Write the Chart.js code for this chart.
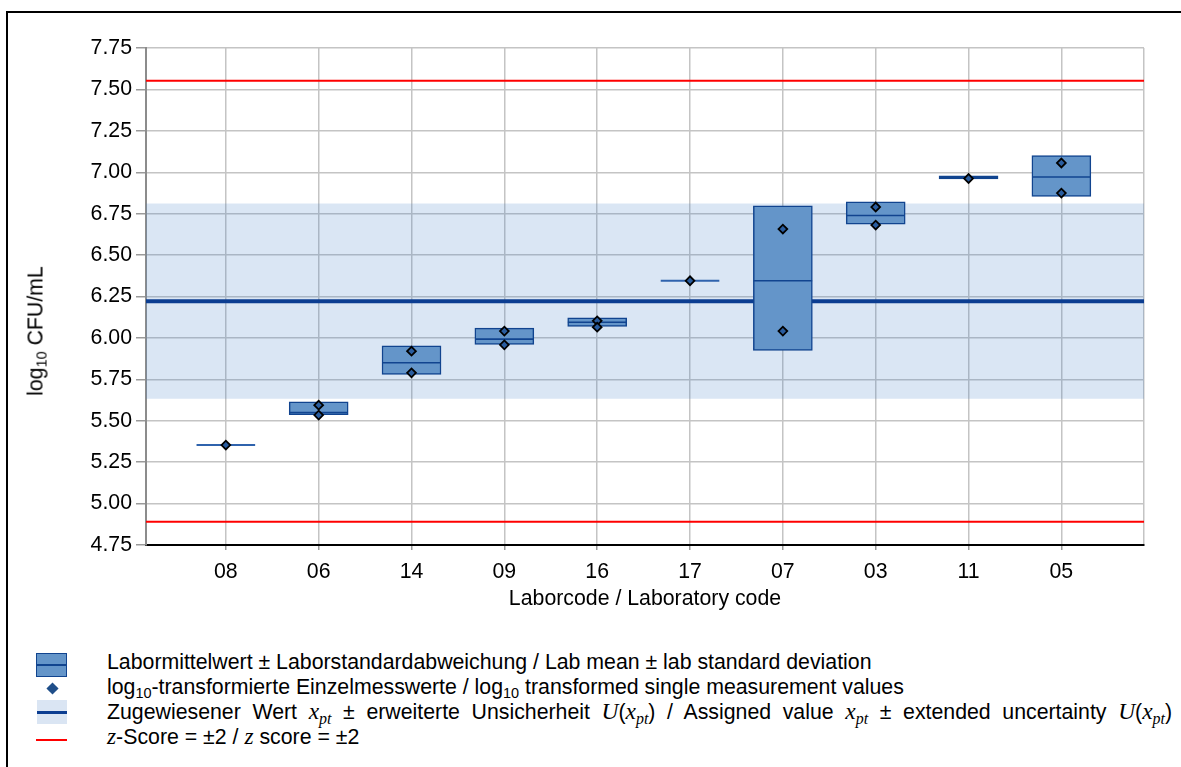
<!DOCTYPE html>
<html><head><meta charset="utf-8">
<script src="https://cdn.jsdelivr.net/npm/chart.js@4.4.1/dist/chart.umd.min.js"></script>
<style>
html,body{margin:0;padding:0;background:#fff;}
body{width:1181px;height:767px;position:relative;overflow:hidden;font-family:"Liberation Sans",Arial,sans-serif;color:#000;}
#frame{position:absolute;left:6px;top:11px;width:1300px;height:900px;border-left:2.5px solid #000;border-top:2.5px solid #000;}
#wrap{position:absolute;left:0;top:0;width:1181px;height:615px;}
#ytitle{position:absolute;left:36px;top:331px;transform:translate(-50%,-50%) rotate(-90deg);font-size:21.3px;white-space:nowrap;}
.row{position:absolute;left:107px;font-size:21.3px;white-space:nowrap;line-height:25px;height:25px;}
.m{font-family:"Liberation Serif","DejaVu Serif",serif;font-style:italic;font-size:1.1em;}
.sb{font-size:0.68em;position:relative;top:0.28em;}
.msb{font-size:0.68em;position:relative;top:0.3em;}
.ic{position:absolute;box-sizing:border-box;}
</style>
</head><body>
<div id="frame"></div>
<div id="wrap"><canvas id="c" width="1181" height="615"></canvas></div>
<div id="ytitle">log<span class="sb">10</span> CFU/mL</div>

<div class="ic" style="left:36px;top:653px;width:31px;height:24px;background:#6495c9;border:1.5px solid #11448f;"></div>
<div class="ic" style="left:36px;top:664px;width:31px;height:1.5px;background:#11448f;"></div>
<div class="ic" style="left:47px;top:683px;width:11px;height:11px;background:#1f4e89;transform:rotate(45deg) scale(0.78);"></div>
<div class="ic" style="left:37px;top:700px;width:30px;height:24px;background:#dae5f3;"></div>
<div class="ic" style="left:37px;top:711px;width:30px;height:2.5px;background:#0b3d91;"></div>
<div class="ic" style="left:36px;top:739px;width:31px;height:2px;background:#ff0000;"></div>

<div class="row" style="top:650px;">Labormittelwert ± Laborstandardabweichung / Lab mean ± lab standard deviation</div>
<div class="row" style="top:675px;">log<span class="sb">10</span>-transformierte Einzelmesswerte / log<span class="sb">10</span> transformed single measurement values</div>
<div class="row" style="top:699px;width:1065px;text-align:justify;text-align-last:justify;">Zugewiesener Wert <span class="m">x<span class="msb">pt</span></span> ± erweiterte Unsicherheit <span class="m">U</span>(<span class="m">x<span class="msb">pt</span></span>) / Assigned value <span class="m">x<span class="msb">pt</span></span> ± extended uncertainty <span class="m">U</span>(<span class="m">x<span class="msb">pt</span></span>)</div>
<div class="row" style="top:724px;"><span class="m">z</span>-Score = ±2 / <span class="m">z</span> score = ±2</div>

<script>
// ---- data ----
const labCodes = ['08','06','14','09','16','17','07','03','11','05'];
const labMeans = [5.353, 5.550, 5.850, 5.993, 6.095, 6.345, 6.345, 6.739, 6.969, 6.971];
const sdLower  = [null, 5.536, 5.779, 5.960, 6.069, null, 5.924, 6.687, 6.960, 6.854];
const sdUpper  = [null, 5.614, 5.952, 6.059, 6.121, null, 6.798, 6.822, 6.978, 7.100];
const measurementA = [5.353, 5.594, 5.920, 6.041, 6.103, 6.345, 6.657, 6.790, 6.962, 7.056];
const measurementB = [null, 5.534, 5.789, 5.958, 6.065, null, 6.041, 6.681, null, 6.874];
const assignedValue = 6.222;
const expandedUncertainty = 0.589;
const zScoreLower = 4.891;
const zScoreUpper = 7.553;
const yTickValues = [4.75, 5.00, 5.25, 5.50, 5.75, 6.00, 6.25, 6.50, 6.75, 7.00, 7.25, 7.50, 7.75];
const xMin = -0.86, xMax = 9.89;

// ---- derived datasets ----
const boxData = [];
sdLower.forEach((lo, i) => { if (lo !== null) boxData.push({x: i, y: [lo, sdUpper[i]]}); });
const meanData = labMeans.map((m, i) => ({x: i, y: m}));
const meanColors = sdLower.map(lo => lo === null ? '#2f63ad' : '#11448f');
const meanWidths = sdLower.map(lo => lo === null ? 2 : 1.6);
const pointData = [];
measurementA.forEach((v, i) => { if (v !== null) pointData.push({x: i, y: v}); });
measurementB.forEach((v, i) => { if (v !== null) pointData.push({x: i, y: v}); });
const span = y => [{x: xMin, y: y}, {x: xMax, y: y}];

Chart.defaults.font.family = '"Liberation Sans", Arial, sans-serif';
Chart.defaults.font.size = 21.3;
Chart.defaults.color = '#000';

new Chart(document.getElementById('c'), {
  type: 'bar',
  data: {
    datasets: [
      {type: 'scatter', label: 'Einzelmesswerte', data: pointData, order: 1,
       pointStyle: 'rectRot', pointRadius: 4.4, pointBackgroundColor: '#2a5d9f',
       pointBorderColor: '#000', pointBorderWidth: 1.8},
      {type: 'scatter', label: 'Labormittelwert', data: meanData, order: 2,
       pointStyle: 'line', pointRadius: 29.3, pointBorderColor: meanColors, pointBorderWidth: meanWidths},
      {type: 'bar', label: 'Laborstandardabweichung', data: boxData, order: 3,
       backgroundColor: '#6495c9', borderColor: '#11448f', borderWidth: 1.5,
       barThickness: 59, grouped: false, borderSkipped: false},
      {type: 'line', label: 'z = +2', data: span(zScoreUpper), order: 5,
       borderColor: '#ff0000', borderWidth: 2, pointRadius: 0, fill: false},
      {type: 'line', label: 'z = -2', data: span(zScoreLower), order: 5,
       borderColor: '#ff0000', borderWidth: 2, pointRadius: 0, fill: false},
      {type: 'line', label: 'x_pt', data: span(assignedValue), order: 6,
       borderColor: '#0b3d91', borderWidth: 4, pointRadius: 0, fill: false},
      {type: 'line', label: 'U(x_pt)', data: span(assignedValue + expandedUncertainty), order: 7,
       borderWidth: 0, borderColor: 'rgba(0,0,0,0)', pointRadius: 0,
       fill: {value: assignedValue - expandedUncertainty}, backgroundColor: 'rgba(70,130,200,0.2)'}
    ]
  },
  options: {
    responsive: false,
    devicePixelRatio: 1,
    animation: false,
    events: [],
    layout: {padding: {left: 0, top: 48, right: 37, bottom: 0}},
    plugins: {legend: {display: false}, tooltip: {enabled: false}},
    scales: {
      x: {
        type: 'linear', min: xMin, max: xMax, offset: false,
        afterBuildTicks: s => { s.ticks = labCodes.map((_, i) => ({value: i})).concat([{value: xMax}]); },
        afterFit: s => { s.height = 70; },
        ticks: {autoSkip: false, maxRotation: 0, padding: 9,
                callback: (v, i) => i < labCodes.length ? labCodes[i] : ''},
        grid: {offset: false, color: '#c4c4c4', lineWidth: 1.5, tickLength: 5,
               tickColor: c => c.index < labCodes.length ? '#9a9a9a' : 'rgba(0,0,0,0)'},
        border: {color: '#000', width: 2},
        title: {display: true, text: 'Laborcode / Laboratory code', font: {size: 21.3}, padding: {top: 0, bottom: 3}}
      },
      y: {
        type: 'linear', min: 4.75, max: 7.75,
        afterBuildTicks: s => { s.ticks = yTickValues.map(v => ({value: v})); },
        afterFit: s => { s.width = 146; },
        ticks: {padding: 4, callback: v => Number(v).toFixed(2)},
        grid: {color: '#c4c4c4', lineWidth: 1.5, tickLength: 10, tickColor: '#9a9a9a'},
        border: {color: '#8c8c8c', width: 2}
      }
    }
  }
});
</script>
</body></html>
